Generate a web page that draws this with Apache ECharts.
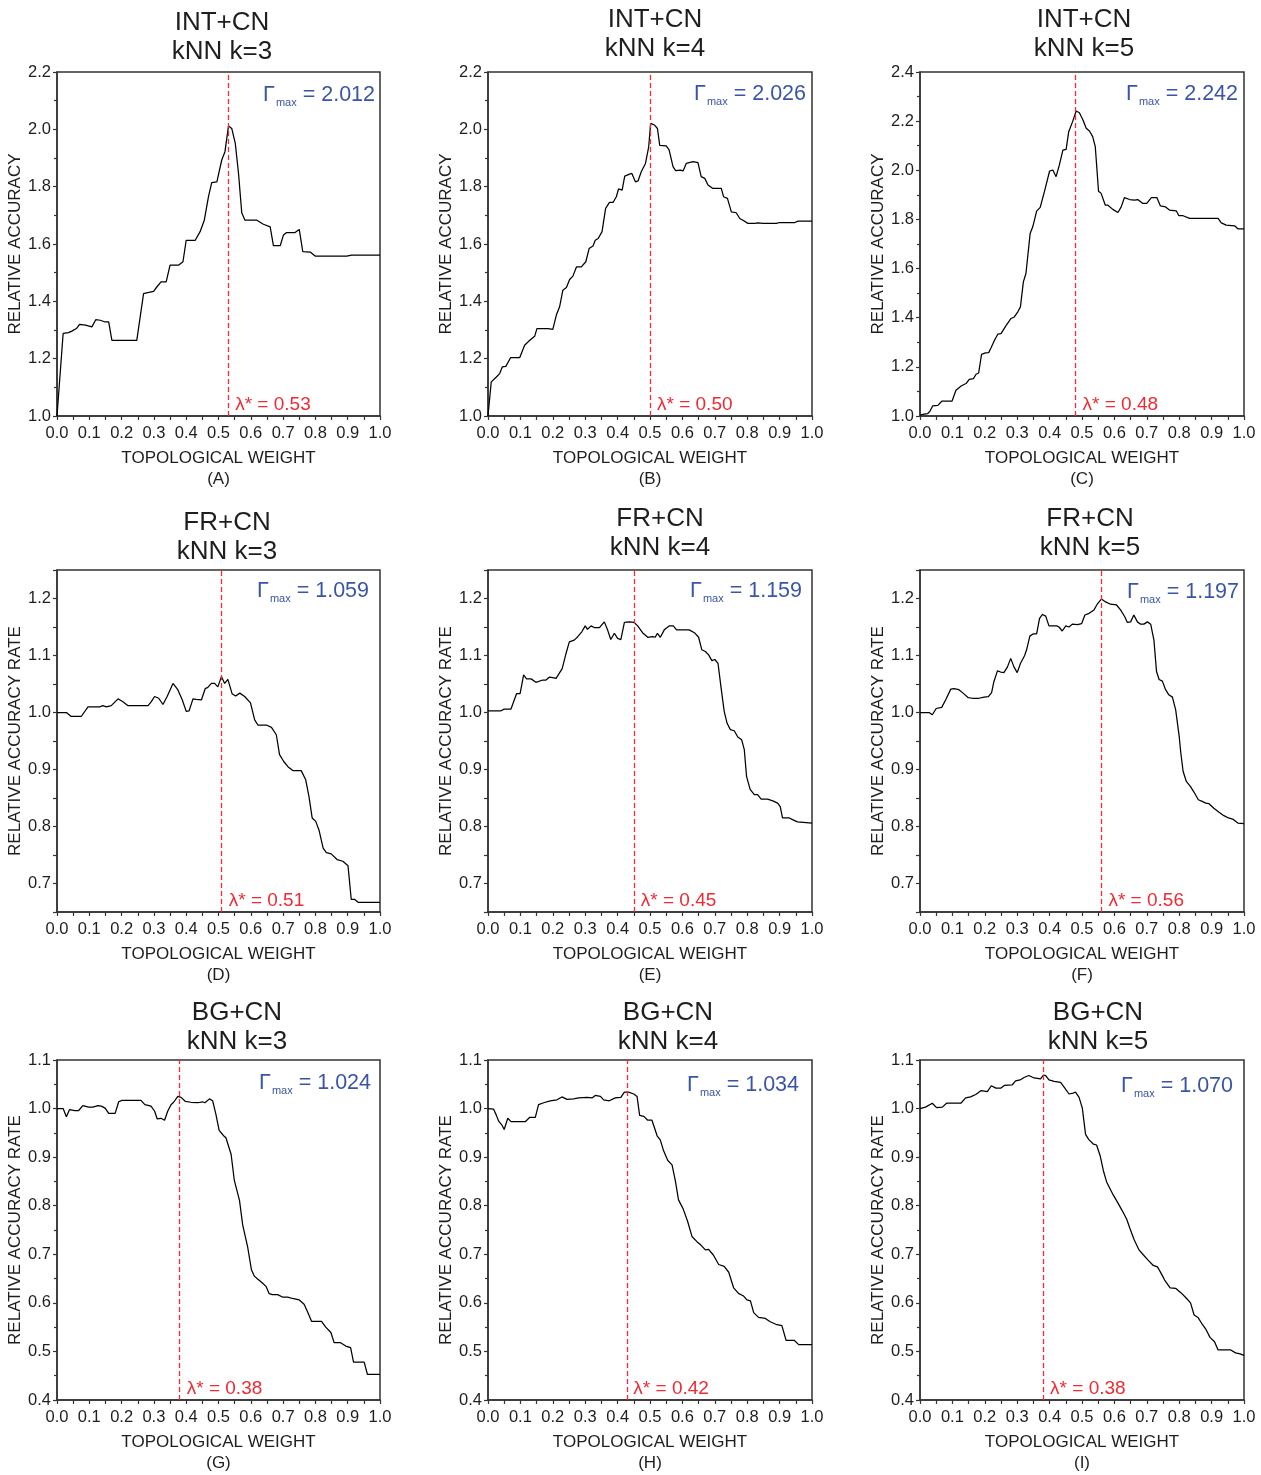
<!DOCTYPE html>
<html><head><meta charset="utf-8">
<script src="https://cdn.jsdelivr.net/npm/echarts@6/dist/echarts.min.js"></script>
<style>html,body{margin:0;padding:0;background:#fff}#c{width:1261px;height:1475px}</style>
</head><body><div id="c"></div>
<script>
// ---------------- DATA ----------------
const panelLetters = ['(A)','(B)','(C)','(D)','(E)','(F)','(G)','(H)','(I)'];
const panelTitles = ['INT+CN\nkNN k=3','INT+CN\nkNN k=4','INT+CN\nkNN k=5',
                     'FR+CN\nkNN k=3','FR+CN\nkNN k=4','FR+CN\nkNN k=5',
                     'BG+CN\nkNN k=3','BG+CN\nkNN k=4','BG+CN\nkNN k=5'];
const yNames = ['RELATIVE ACCURACY','RELATIVE ACCURACY','RELATIVE ACCURACY',
                'RELATIVE ACCURACY RATE','RELATIVE ACCURACY RATE','RELATIVE ACCURACY RATE',
                'RELATIVE ACCURACY RATE','RELATIVE ACCURACY RATE','RELATIVE ACCURACY RATE'];
const xName = 'TOPOLOGICAL WEIGHT';
const yMins = [1.0,1.0,1.0,0.65,0.65,0.65,0.4,0.4,0.4];
const yMaxs = [2.2,2.2,2.4,1.25,1.25,1.25,1.1,1.1,1.1];
const yIntervals = [0.2,0.2,0.2,0.05,0.05,0.05,0.1,0.1,0.1];
const gammaMax = ['2.012','2.026','2.242','1.059','1.159','1.197','1.024','1.034','1.070'];
const lambdaStar = [0.53,0.50,0.48,0.51,0.45,0.56,0.38,0.427,0.38];
const lambdaText = ['0.53','0.50','0.48','0.51','0.45','0.56','0.38','0.42','0.38'];

const curveA = [[0,1.0],[0.019,1.288],[0.036,1.291],[0.046,1.296],[0.06,1.305],[0.07,1.32],[0.088,1.317],[0.108,1.311],[0.12,1.336],[0.134,1.334],[0.149,1.328],[0.16,1.328],[0.17,1.264],[0.247,1.264],[0.268,1.427],[0.284,1.431],[0.299,1.435],[0.309,1.45],[0.322,1.468],[0.338,1.468],[0.35,1.526],[0.376,1.526],[0.39,1.538],[0.4,1.613],[0.428,1.613],[0.443,1.643],[0.456,1.683],[0.469,1.765],[0.479,1.814],[0.495,1.817],[0.51,1.893],[0.52,1.922],[0.531,2.012],[0.541,2.003],[0.552,1.951],[0.562,1.846],[0.572,1.709],[0.582,1.683],[0.619,1.683],[0.639,1.669],[0.66,1.66],[0.67,1.594],[0.691,1.594],[0.701,1.631],[0.711,1.64],[0.737,1.64],[0.75,1.651],[0.761,1.573],[0.784,1.572],[0.799,1.558],[0.897,1.558],[0.912,1.561],[1.0,1.561]];
const curveB = [[0,1.0],[0.01,1.119],[0.026,1.136],[0.036,1.148],[0.044,1.171],[0.055,1.173],[0.07,1.204],[0.098,1.204],[0.113,1.247],[0.129,1.264],[0.144,1.278],[0.151,1.305],[0.185,1.305],[0.2,1.302],[0.211,1.352],[0.221,1.381],[0.231,1.439],[0.242,1.448],[0.252,1.476],[0.262,1.488],[0.273,1.52],[0.288,1.52],[0.302,1.538],[0.312,1.584],[0.324,1.593],[0.331,1.613],[0.34,1.619],[0.352,1.643],[0.363,1.724],[0.375,1.745],[0.386,1.745],[0.396,1.765],[0.403,1.792],[0.414,1.788],[0.422,1.837],[0.437,1.844],[0.444,1.846],[0.455,1.817],[0.463,1.82],[0.473,1.852],[0.486,1.881],[0.496,1.939],[0.502,2.021],[0.514,2.015],[0.523,2.003],[0.53,1.944],[0.55,1.942],[0.559,1.928],[0.571,1.87],[0.579,1.856],[0.594,1.858],[0.602,1.855],[0.612,1.881],[0.633,1.887],[0.648,1.884],[0.658,1.835],[0.669,1.829],[0.679,1.806],[0.694,1.794],[0.72,1.794],[0.727,1.765],[0.739,1.759],[0.751,1.712],[0.766,1.709],[0.777,1.689],[0.787,1.683],[0.802,1.672],[0.823,1.672],[0.833,1.674],[0.849,1.672],[0.89,1.672],[0.9,1.675],[0.947,1.675],[0.957,1.68],[1.0,1.68]];
const curveC = [[0,1.003],[0.008,1.007],[0.024,1.01],[0.031,1.02],[0.039,1.041],[0.055,1.043],[0.068,1.061],[0.099,1.061],[0.111,1.105],[0.127,1.122],[0.142,1.132],[0.152,1.149],[0.165,1.152],[0.173,1.17],[0.181,1.175],[0.19,1.251],[0.202,1.257],[0.212,1.258],[0.219,1.277],[0.23,1.308],[0.24,1.333],[0.25,1.335],[0.266,1.369],[0.281,1.397],[0.291,1.403],[0.302,1.424],[0.31,1.444],[0.319,1.546],[0.327,1.58],[0.34,1.743],[0.348,1.77],[0.36,1.834],[0.371,1.849],[0.384,1.913],[0.4,1.997],[0.41,2.001],[0.42,1.974],[0.43,2.021],[0.441,2.082],[0.451,2.085],[0.459,2.157],[0.471,2.198],[0.482,2.241],[0.492,2.234],[0.503,2.205],[0.513,2.171],[0.523,2.16],[0.533,2.137],[0.541,2.096],[0.551,1.915],[0.559,1.906],[0.572,1.858],[0.58,1.858],[0.595,1.841],[0.611,1.828],[0.621,1.851],[0.631,1.889],[0.647,1.881],[0.662,1.879],[0.672,1.881],[0.688,1.865],[0.7,1.865],[0.714,1.889],[0.731,1.889],[0.742,1.855],[0.758,1.851],[0.77,1.838],[0.791,1.835],[0.799,1.815],[0.812,1.815],[0.832,1.804],[0.92,1.804],[0.93,1.786],[0.945,1.777],[0.971,1.774],[0.981,1.762],[1.0,1.762]];
const curveD = [[0,1.0],[0.029,1.0],[0.044,0.993],[0.075,0.993],[0.096,1.01],[0.132,1.01],[0.142,1.012],[0.153,1.01],[0.168,1.012],[0.189,1.024],[0.204,1.019],[0.22,1.012],[0.282,1.012],[0.292,1.019],[0.302,1.028],[0.315,1.025],[0.328,1.014],[0.341,1.028],[0.359,1.051],[0.374,1.04],[0.388,1.022],[0.4,1.002],[0.409,1.003],[0.421,1.024],[0.431,1.023],[0.447,1.022],[0.459,1.042],[0.467,1.044],[0.478,1.051],[0.488,1.051],[0.498,1.045],[0.509,1.063],[0.519,1.051],[0.529,1.058],[0.542,1.033],[0.553,1.029],[0.566,1.034],[0.581,1.028],[0.599,1.017],[0.612,0.987],[0.622,0.978],[0.648,0.978],[0.664,0.974],[0.679,0.961],[0.689,0.926],[0.702,0.914],[0.715,0.905],[0.731,0.898],[0.756,0.898],[0.77,0.882],[0.78,0.853],[0.79,0.815],[0.801,0.809],[0.811,0.794],[0.824,0.762],[0.834,0.754],[0.849,0.752],[0.867,0.742],[0.885,0.739],[0.901,0.731],[0.911,0.672],[0.922,0.672],[0.932,0.667],[1.0,0.667]];
const curveE = [[0,1.003],[0.04,1.003],[0.05,1.006],[0.071,1.006],[0.088,1.033],[0.099,1.033],[0.11,1.066],[0.119,1.059],[0.133,1.059],[0.148,1.053],[0.169,1.057],[0.179,1.057],[0.189,1.062],[0.2,1.061],[0.21,1.06],[0.229,1.077],[0.241,1.104],[0.251,1.124],[0.266,1.127],[0.277,1.133],[0.29,1.142],[0.3,1.152],[0.307,1.146],[0.318,1.152],[0.328,1.149],[0.344,1.149],[0.359,1.159],[0.369,1.145],[0.379,1.128],[0.39,1.139],[0.4,1.13],[0.41,1.128],[0.421,1.158],[0.436,1.159],[0.451,1.158],[0.462,1.152],[0.477,1.14],[0.493,1.132],[0.508,1.133],[0.516,1.132],[0.523,1.139],[0.532,1.132],[0.544,1.145],[0.56,1.152],[0.572,1.152],[0.582,1.145],[0.621,1.145],[0.637,1.14],[0.65,1.132],[0.66,1.11],[0.671,1.107],[0.681,1.101],[0.691,1.091],[0.7,1.093],[0.71,1.086],[0.719,1.045],[0.729,1.002],[0.738,0.981],[0.748,0.97],[0.76,0.968],[0.771,0.957],[0.783,0.952],[0.791,0.935],[0.798,0.888],[0.809,0.865],[0.822,0.856],[0.832,0.856],[0.843,0.848],[0.863,0.848],[0.879,0.845],[0.894,0.841],[0.902,0.835],[0.909,0.815],[0.93,0.815],[0.94,0.812],[0.955,0.808],[1.0,0.806]];
const curveF = [[0,1.0],[0.028,1.0],[0.038,0.996],[0.05,1.007],[0.067,1.009],[0.079,1.022],[0.095,1.041],[0.105,1.042],[0.12,1.04],[0.133,1.034],[0.149,1.026],[0.162,1.025],[0.182,1.025],[0.198,1.027],[0.211,1.028],[0.221,1.035],[0.228,1.054],[0.239,1.073],[0.249,1.071],[0.259,1.07],[0.27,1.08],[0.28,1.095],[0.29,1.08],[0.3,1.07],[0.31,1.086],[0.323,1.1],[0.329,1.11],[0.339,1.134],[0.35,1.138],[0.36,1.138],[0.369,1.165],[0.378,1.172],[0.388,1.169],[0.398,1.152],[0.408,1.152],[0.422,1.152],[0.429,1.15],[0.439,1.143],[0.45,1.152],[0.46,1.15],[0.47,1.155],[0.486,1.154],[0.499,1.156],[0.509,1.171],[0.522,1.174],[0.537,1.18],[0.547,1.19],[0.56,1.199],[0.573,1.194],[0.588,1.19],[0.606,1.189],[0.619,1.18],[0.632,1.168],[0.64,1.158],[0.65,1.159],[0.66,1.171],[0.671,1.159],[0.681,1.155],[0.691,1.155],[0.702,1.159],[0.712,1.155],[0.722,1.127],[0.73,1.072],[0.738,1.058],[0.748,1.055],[0.758,1.04],[0.768,1.031],[0.779,1.027],[0.789,1.005],[0.8,0.958],[0.805,0.929],[0.812,0.897],[0.822,0.879],[0.835,0.87],[0.846,0.86],[0.859,0.847],[0.871,0.844],[0.882,0.841],[0.892,0.84],[0.907,0.832],[0.923,0.825],[0.938,0.819],[0.952,0.815],[0.965,0.813],[0.981,0.806],[1.0,0.805]];
const curveG = [[0,1.0],[0.019,1.0],[0.029,0.983],[0.039,0.998],[0.055,0.996],[0.067,0.996],[0.08,1.006],[0.098,1.003],[0.111,1.003],[0.127,1.006],[0.137,1.005],[0.149,1.001],[0.16,0.99],[0.18,0.99],[0.191,1.014],[0.201,1.017],[0.26,1.017],[0.272,1.008],[0.291,1.005],[0.302,0.995],[0.31,0.979],[0.322,0.98],[0.333,0.976],[0.343,0.995],[0.353,1.008],[0.361,1.013],[0.374,1.025],[0.384,1.023],[0.397,1.015],[0.415,1.013],[0.436,1.012],[0.451,1.014],[0.458,1.012],[0.472,1.02],[0.482,1.016],[0.492,0.988],[0.502,0.955],[0.516,0.944],[0.523,0.94],[0.539,0.906],[0.549,0.852],[0.565,0.811],[0.575,0.76],[0.59,0.716],[0.602,0.668],[0.611,0.655],[0.621,0.649],[0.636,0.641],[0.647,0.634],[0.657,0.619],[0.667,0.617],[0.683,0.617],[0.698,0.612],[0.714,0.612],[0.729,0.609],[0.75,0.606],[0.765,0.597],[0.776,0.581],[0.788,0.562],[0.819,0.562],[0.832,0.55],[0.848,0.539],[0.858,0.518],[0.878,0.518],[0.894,0.511],[0.909,0.508],[0.918,0.478],[0.951,0.478],[0.961,0.453],[1.0,0.453]];
const curveH = [[0,1.0],[0.017,0.999],[0.026,0.986],[0.033,0.974],[0.043,0.966],[0.05,0.957],[0.061,0.98],[0.071,0.973],[0.115,0.973],[0.129,0.982],[0.146,0.982],[0.156,1.008],[0.172,1.012],[0.192,1.016],[0.213,1.018],[0.228,1.024],[0.244,1.019],[0.264,1.02],[0.28,1.022],[0.306,1.023],[0.321,1.022],[0.331,1.027],[0.347,1.025],[0.357,1.018],[0.374,1.016],[0.393,1.022],[0.41,1.023],[0.421,1.034],[0.434,1.034],[0.45,1.03],[0.46,1.025],[0.468,0.986],[0.481,0.984],[0.493,0.976],[0.506,0.976],[0.522,0.944],[0.532,0.935],[0.542,0.913],[0.555,0.893],[0.568,0.884],[0.578,0.852],[0.588,0.812],[0.602,0.794],[0.616,0.768],[0.63,0.736],[0.645,0.726],[0.657,0.719],[0.671,0.709],[0.681,0.71],[0.696,0.698],[0.712,0.679],[0.729,0.675],[0.743,0.663],[0.758,0.631],[0.774,0.619],[0.789,0.614],[0.799,0.606],[0.81,0.604],[0.82,0.58],[0.835,0.57],[0.856,0.568],[0.871,0.561],[0.892,0.555],[0.907,0.553],[0.92,0.523],[0.945,0.523],[0.959,0.514],[1.0,0.514]];
const curveI = [[0,1.0],[0.017,1.003],[0.038,1.011],[0.051,1.002],[0.069,1.003],[0.082,1.011],[0.126,1.011],[0.131,1.009],[0.141,1.022],[0.156,1.024],[0.172,1.029],[0.189,1.037],[0.208,1.035],[0.22,1.047],[0.234,1.042],[0.249,1.042],[0.261,1.048],[0.285,1.049],[0.295,1.057],[0.309,1.059],[0.321,1.064],[0.336,1.068],[0.352,1.063],[0.372,1.061],[0.381,1.069],[0.388,1.068],[0.398,1.059],[0.414,1.056],[0.434,1.054],[0.447,1.042],[0.46,1.03],[0.473,1.032],[0.48,1.034],[0.491,1.023],[0.501,1.001],[0.511,0.947],[0.521,0.936],[0.535,0.927],[0.545,0.925],[0.556,0.903],[0.566,0.872],[0.576,0.849],[0.594,0.825],[0.609,0.808],[0.624,0.79],[0.638,0.772],[0.648,0.753],[0.661,0.73],[0.676,0.709],[0.689,0.699],[0.704,0.688],[0.72,0.677],[0.733,0.674],[0.748,0.656],[0.755,0.647],[0.772,0.631],[0.789,0.63],[0.805,0.621],[0.823,0.609],[0.835,0.6],[0.846,0.575],[0.858,0.57],[0.871,0.556],[0.882,0.546],[0.895,0.529],[0.909,0.52],[0.92,0.503],[0.959,0.503],[0.974,0.497],[0.988,0.495],[1.0,0.492]];
const curves = [curveA,curveB,curveC,curveD,curveE,curveF,curveG,curveH,curveI];

// ---------------- LAYOUT / STYLE ----------------
const colLeft = [57, 488, 920];
const colWidth = [323, 324, 324];
const rowTop = [72, 570, 1060];
const rowHeight = [344, 342, 343];
const titleCX = [222, 655, 1084, 227, 660, 1090, 237, 668, 1098];
const titleCY = [37.5, 34.5, 34.5, 537, 533.5, 533.5, 1027, 1027, 1027];
const gammaRX = [375, 806, 1238, 369, 802, 1239, 371, 799, 1233];
const gammaCY = [95, 94, 94, 591, 591, 592, 1083, 1085, 1086];
const FONT = '"Liberation Sans", Arial, Helvetica, sans-serif';
const RED = '#ec2c32', BLUE = '#3a55a6', AXIS = '#333', TXT = '#1e1e1e';

const grids = [], xAxes = [], yAxes = [], series = [], titles = [];
for (let i = 0; i < 9; i++) {
  const r = Math.floor(i / 3), c = i % 3;
  grids.push({left: colLeft[c], top: rowTop[r], width: colWidth[c], height: rowHeight[r],
    show: true, borderColor: AXIS, borderWidth: 1.5, backgroundColor: 'transparent', containLabel: false});
  xAxes.push({type: 'value', gridIndex: i, min: 0, max: 1, interval: 0.1,
    name: xName + '\n' + panelLetters[i], nameLocation: 'middle', nameGap: 32,
    nameTextStyle: {fontFamily: FONT, fontSize: 17, color: TXT, lineHeight: 21},
    axisLine: {lineStyle: {color: AXIS, width: 1.5}},
    axisTick: {show: true, length: 4, lineStyle: {color: AXIS, width: 1.2}},
    minorTick: {show: true, splitNumber: 2, length: 4, lineStyle: {color: AXIS, width: 1.2}},
    splitLine: {show: false},
    axisLabel: {fontFamily: FONT, fontSize: 16.5, color: TXT, margin: 9, formatter: v => v.toFixed(1)}});
  const isMid = r === 1;
  yAxes.push({type: 'value', gridIndex: i, min: yMins[i], max: yMaxs[i], interval: yIntervals[i],
    name: yNames[i], nameLocation: 'middle', nameGap: 33, nameRotate: 90,
    nameTextStyle: {fontFamily: FONT, fontSize: 17, color: TXT},
    axisLine: {show: true, lineStyle: {color: AXIS, width: 1.5}},
    axisTick: {show: true, length: 4, lineStyle: {color: AXIS, width: 1.2}},
    minorTick: {show: !isMid, splitNumber: 2, length: 3, lineStyle: {color: AXIS, width: 1.2}},
    splitLine: {show: false},
    axisLabel: {fontFamily: FONT, fontSize: 16.5, color: TXT, margin: 6,
      formatter: v => {
        if (isMid) { const t = v * 10; return Math.abs(t - Math.round(t)) < 1e-6 && v < 1.22 ? v.toFixed(1) : ''; }
        return v.toFixed(1);
      }}});
  series.push({type: 'line', xAxisIndex: i, yAxisIndex: i, data: curves[i], showSymbol: false,
    symbol: 'none', lineStyle: {color: '#000', width: 1.25}, silent: true, animation: false,
    markLine: {silent: true, symbol: 'none', animation: false,
      lineStyle: {color: RED, type: [5, 3], width: 1.3}, label: {show: false},
      data: [{xAxis: lambdaStar[i]}]},
    markPoint: {silent: true, symbolSize: 0, animation: false,
      data: [{coord: [lambdaStar[i], yMins[i]],
        label: {show: true, position: 'right', distance: 7, offset: [0, -11],
          formatter: 'λ* = ' + lambdaText[i], fontFamily: FONT, fontSize: 19, color: RED}}]}});
  titles.push({text: panelTitles[i], left: titleCX[i], top: titleCY[i], textAlign: 'center',
    textVerticalAlign: 'middle', padding: 0,
    textStyle: {fontFamily: FONT, fontSize: 26, fontWeight: 'normal', color: TXT, lineHeight: 29}});
  titles.push({text: '{g|Γ}{s|max}{g| = ' + gammaMax[i] + '}', left: gammaRX[i], top: gammaCY[i],
    textAlign: 'right', textVerticalAlign: 'middle', padding: 0,
    textStyle: {fontWeight: 'normal', rich: {
      g: {fontFamily: FONT, fontSize: 21.5, fontWeight: 'normal', color: BLUE, lineHeight: 28},
      s: {fontFamily: FONT, fontSize: 11, fontWeight: 'normal', color: BLUE, lineHeight: 12, padding: [16, 0, 0, 1]}}}});
}

const chart = echarts.init(document.getElementById('c'), null, {renderer: 'canvas'});
chart.setOption({backgroundColor: '#fff', animation: false, title: titles,
  grid: grids, xAxis: xAxes, yAxis: yAxes, series: series});
</script>
</body></html>
